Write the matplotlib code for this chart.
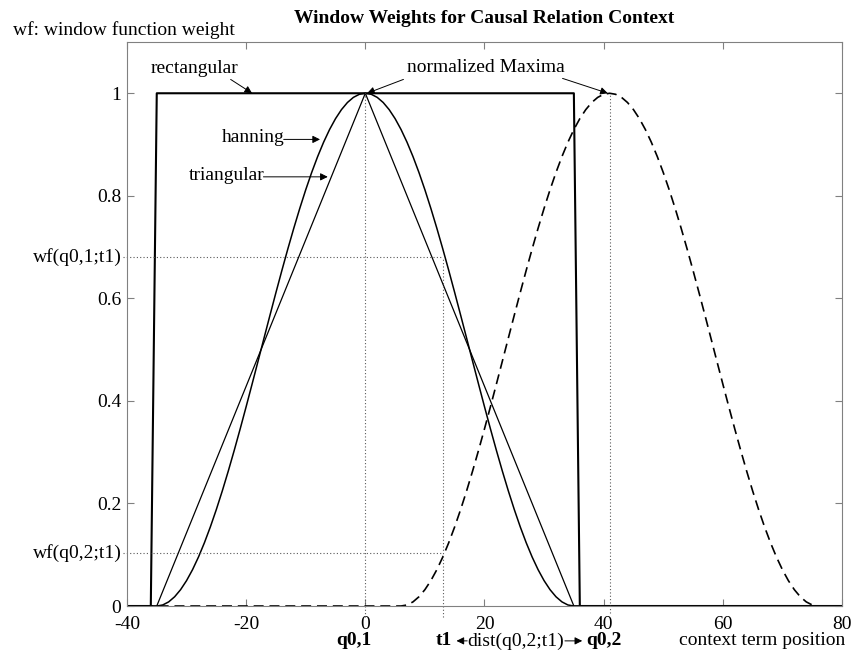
import numpy as np
import matplotlib
matplotlib.use("Agg")
import matplotlib.pyplot as plt

plt.rcParams['font.family'] = ['Liberation Serif', 'DejaVu Serif']

# context term positions (integer steps, as in the original plot)
positions = np.arange(-40, 81)

# window parameters
half_width = 35          # hanning / triangular reach zero at +-35
rect_half_width = 35     # rectangular is 1 on [-35, 35]
q01 = 0                  # first query term position
q02 = 41                 # second query term position
t1 = 13.1                # context term t1

# weights read where the dotted lines meet the curves
wf_q01_t1 = 0.68
wf_q02_t1 = 0.103

y_ticks = [0, 0.2, 0.4, 0.6, 0.8, 1]
y_tick_labels = ['0', '0.2', '0.4', '0.6', '0.8', '1']
x_ticks = [-40, -20, 0, 20, 40, 60, 80]
x_tick_labels = ['-40', '-20', '0', '20', '40', '60', '80']


def place(window, center):
    # put a window of length 2*half_width+1 centred on a position
    w = np.zeros(len(positions))
    start = np.searchsorted(positions, center - (len(window) - 1) // 2)
    w[start:start + len(window)] = window
    return w


n = 2 * half_width + 1
rectangular = place(np.ones(2 * rect_half_width + 1), q01)
hanning = place(np.hanning(n), q01)
triangular = place(np.bartlett(n), q01)
hanning_q02 = place(np.hanning(n), q02)

fig = plt.figure(figsize=(8.55, 6.55), dpi=100)
ax = fig.add_axes([0.1485, 0.0748, 0.8363, 0.8611])

ax.plot(positions, rectangular, color='black', lw=1.5)
ax.plot(positions, hanning, color='black', lw=1.1)
ax.plot(positions, triangular, color='black', lw=0.9)
ax.plot(positions, hanning_q02, color='black', lw=1.2, linestyle=(0, (6, 3.5)))

dots = dict(color='0.35', lw=0.8, linestyle=(0, (1, 2)), clip_on=False)
# vertical markers at q0,1 / q0,2 / t1, going a bit below the axis
ax.plot([q01, q01], [-0.022, 1], **dots)
ax.plot([q02, q02], [-0.014, 1], **dots)
ax.plot([t1, t1], [-0.022, wf_q01_t1], **dots)
# horizontal markers for the two weights at t1
ax.plot([-40.7, t1], [wf_q01_t1, wf_q01_t1], **dots)
ax.plot([-40.7, t1], [wf_q02_t1, wf_q02_t1], **dots)

ax.set_xlim(-40, 80)
ax.set_ylim(0, 1.1)
ax.set_xticks(x_ticks)
ax.set_xticklabels(x_tick_labels)
ax.set_yticks(y_ticks)
ax.set_yticklabels(y_tick_labels)
ax.tick_params(direction='in', top=True, right=True, length=5, width=0.8,
               color='0.5', labelsize=14)
ax.tick_params(axis='x', pad=7)
ax.tick_params(axis='y', pad=4)
for s in ax.spines.values():
    s.set_color('0.5')
    s.set_linewidth(0.8)

# labels for the weights, on the left of the axis
ax.text(-40.8, wf_q01_t1, 'wf(q0,1;t1)', ha='right', va='center', fontsize=14)
ax.text(-40.8, wf_q02_t1, 'wf(q0,2;t1)', ha='right', va='center', fontsize=14)

arrow = dict(arrowstyle='-|>', color='black', lw=0.7, mutation_scale=11,
             shrinkA=0, shrinkB=0)
fs = 14
ax.text(-36.0, 1.049, 'rectangular', ha='left', va='center', fontsize=fs)
ax.annotate('', xy=(-19, 1.0), xytext=(-22.6, 1.027), arrowprops=arrow)

ax.text(7.0, 1.051, 'normalized Maxima', ha='left', va='center', fontsize=fs)
ax.annotate('', xy=(0.3, 1.0), xytext=(6.4, 1.027), arrowprops=arrow)
ax.annotate('', xy=(40.7, 1.0), xytext=(33.1, 1.029), arrowprops=arrow)

ax.text(-24.0, 0.913, 'hanning', ha='left', va='center', fontsize=fs)
ax.annotate('', xy=(-7.6, 0.910), xytext=(-13.7, 0.910), arrowprops=arrow)

ax.text(-29.6, 0.839, 'triangular', ha='left', va='center', fontsize=fs)
ax.annotate('', xy=(-6.3, 0.837), xytext=(-17.1, 0.837), arrowprops=arrow)

# labels under the x axis
row = -0.068
ax.text(-2.0, row, 'q0,1', ha='center', va='center', fontsize=fs,
        fontweight='bold')
ax.text(13.1, row, 't1', ha='center', va='center', fontsize=fs,
        fontweight='bold')
ax.text(25.3, row, 'dist(q0,2;t1)', ha='center', va='center', fontsize=fs)
ax.text(40.0, row, 'q0,2', ha='center', va='center', fontsize=fs,
        fontweight='bold')
ax.annotate('', xy=(15.3, row), xytext=(17.1, row), arrowprops=arrow,
            annotation_clip=False)
ax.annotate('', xy=(36.4, row), xytext=(33.5, row), arrowprops=arrow,
            annotation_clip=False)
ax.text(80.5, row, 'context term position', ha='right', va='center',
        fontsize=fs)

fig.text(13 / 855, 1 - 35 / 655, 'wf: window function weight', ha='left',
         va='baseline', fontsize=fs)
fig.text(484 / 855, 1 - 23 / 655, 'Window Weights for Causal Relation Context',
         ha='center', va='baseline', fontsize=14, fontweight='bold')

fig.savefig('out.png', dpi=100)
